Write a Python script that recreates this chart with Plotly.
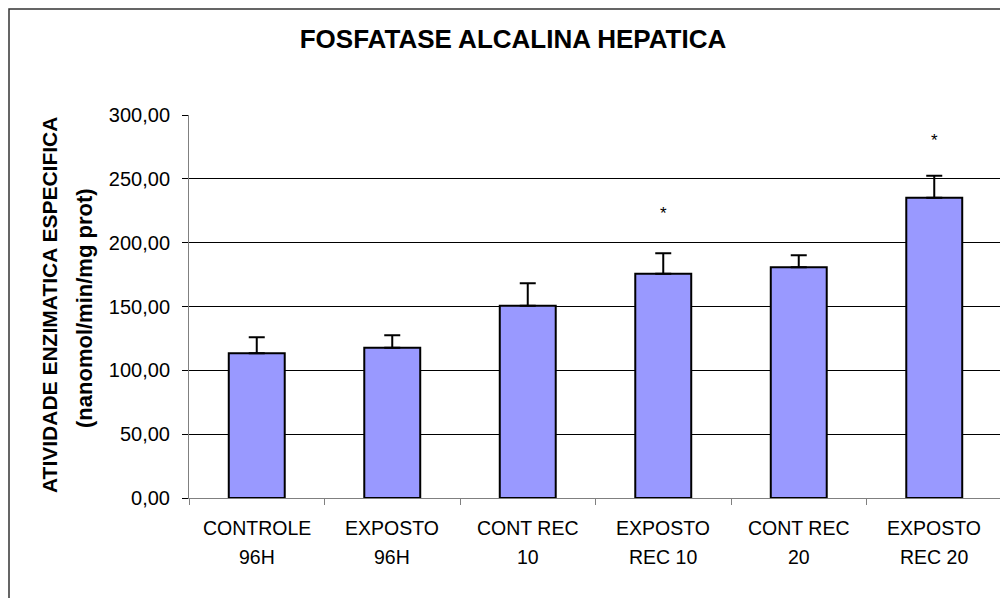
import plotly.graph_objects as go

# dados
rotulo_1 = ["CONTROLE", "EXPOSTO", "CONT REC", "EXPOSTO", "CONT REC", "EXPOSTO"]
rotulo_2 = ["96H", "96H", "10", "REC 10", "20", "REC 20"]
atividade = [113.3, 117.7, 150.6, 175.7, 180.7, 235.2]
erro = [12.6, 9.7, 17.6, 16.0, 9.4, 17.2]
asterisco = ["", "", "", "*", "", "*"]
asterisco_y = [None, None, None, 223, None, 280]

grupos = [a + " " + b for a, b in zip(rotulo_1, rotulo_2)]

# a pagina tem margem de 8px no body, entao tudo e deslocado
OFF = 8
W, H = 1008 - OFF, 598 - OFF
L, R, T, B = 189 - OFF, 6, 115 - OFF, 100
PW, PH = W - L - R, H - T - B


def px_x(px):
    return (px - OFF - L) / PW


def px_y(py):
    return (H - B - (py - OFF)) / PH


FONTE = "Liberation Sans, Arial, sans-serif"

fig = go.Figure(go.Bar(
    x=grupos,
    y=atividade,
    marker=dict(color="#9999FF", line=dict(color="black", width=2)),
    error_y=dict(type="data", symmetric=False, array=erro,
                 arrayminus=[0] * len(erro),
                 color="black", thickness=2, width=8),
))

for g, a, ay in zip(grupos, asterisco, asterisco_y):
    if a:
        fig.add_annotation(x=g, y=ay, xref="x", yref="y", text=a,
                           showarrow=False, font=dict(size=17, color="black"))

for g, l1, l2 in zip(grupos, rotulo_1, rotulo_2):
    fig.add_annotation(x=g, y=px_y(528), xref="x", yref="paper", text=l1,
                       showarrow=False, yanchor="middle",
                       font=dict(size=19.5, color="black"))
    fig.add_annotation(x=g, y=px_y(557), xref="x", yref="paper", text=l2,
                       showarrow=False, yanchor="middle",
                       font=dict(size=19.5, color="black"))

# titulo do eixo y em duas linhas
fig.add_annotation(x=px_x(49), y=px_y(305), xref="paper", yref="paper",
                   text="ATIVIDADE ENZIMATICA ESPECIFICA", textangle=-90,
                   showarrow=False, xanchor="center", yanchor="middle",
                   font=dict(size=21, color="black", weight="bold"))
fig.add_annotation(x=px_x(84), y=px_y(308), xref="paper", yref="paper",
                   text="(nanomol/min/mg prot)", textangle=-90,
                   showarrow=False, xanchor="center", yanchor="middle",
                   font=dict(size=22, color="black", weight="bold"))

# moldura do grafico
fig.add_shape(type="rect", xref="paper", yref="paper",
              x0=px_x(9), x1=px_x(1020), y0=px_y(620), y1=px_y(9),
              line=dict(color="#333333", width=1.5))

fig.update_layout(
    width=W, height=H,
    margin=dict(l=L, r=R, t=T, b=B),
    paper_bgcolor="white",
    plot_bgcolor="white",
    separators=",.",
    font=dict(family=FONTE, color="black"),
    title=dict(text="FOSFATASE ALCALINA HEPATICA", x=(513 - OFF) / W,
               xref="container", xanchor="center", y=1 - (39 - OFF) / H,
               yref="container", yanchor="middle",
               font=dict(size=26, color="black", weight="bold")),
    bargap=0.587,
    showlegend=False,
)
fig.update_xaxes(range=[-0.5, 5.5], showline=True, linecolor="#808080",
                 linewidth=1, ticks="outside", tickson="boundaries", ticklen=6,
                 tickcolor="#808080", showticklabels=False, showgrid=False)
fig.update_yaxes(range=[0, 300], dtick=50, tickformat=".2f", showgrid=True,
                 gridcolor="black", gridwidth=1, zeroline=False, showline=True,
                 linecolor="#808080", linewidth=1, ticks="outside", ticklen=6,
                 tickcolor="black", tickfont=dict(size=20, color="black"),
                 ticklabelstandoff=8)

fig.write_html("out.html")
